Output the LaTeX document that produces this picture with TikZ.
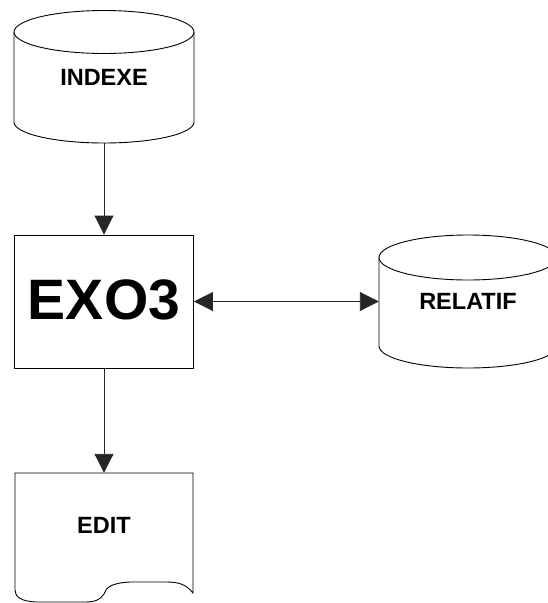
\documentclass[tikz,border=0pt]{standalone}
\usepackage{fontspec}
\setmainfont{Liberation Sans}
\usetikzlibrary{arrows.meta}
\tikzset{
  outline/.style={draw=black, line width=0.9pt, fill=white},
  lbl/.style={inner sep=0pt, font=\fontsize{23.5}{27}\selectfont\bfseries},
  bigl/.style={inner sep=0pt, font=\fontsize{57}{62}\selectfont\bfseries},
  conn/.style={draw=black!85, line width=0.9pt},
  tip/.style={-{Triangle[length=19pt,width=19pt]}},
  tips/.style={{Triangle[length=19pt,width=19pt]}-{Triangle[length=19pt,width=19pt]}}
}
\begin{document}
\begin{tikzpicture}[x=1pt,y=-1pt]
\useasboundingbox (0,0) rectangle (548,603);
\clip (0,0) rectangle (548,603);
% INDEXE cylinder
\draw[outline] (14,32) -- (14,122) arc[start angle=180,end angle=360,x radius=90pt,y radius=21pt] -- (194,32);
\draw[outline] (104,32) ellipse [x radius=90pt, y radius=21.5pt];
\node[lbl, minimum width=180pt, minimum height=132pt] (indexe) at (104,77) {INDEXE};
% EXO3 box
\node[outline, bigl, minimum width=179pt, minimum height=133pt] (exo) at (104,301.5) {};
\node[bigl] (exotxt) at (104,300) {EXO3};
% RELATIF cylinder
\draw[outline] (379,257.5) -- (379,346) arc[start angle=180,end angle=360,x radius=89pt,y radius=22pt] -- (557,257.5);
\draw[outline] (468,257.5) ellipse [x radius=89pt, y radius=22.5pt];
\node[lbl, minimum width=178pt, minimum height=133pt] (relatif) at (468,301.5) {RELATIF};
% EDIT document
\draw[outline] (15,473) -- (193,473) -- (193,593)
  .. controls (186,584) and (178,582) .. (166,582) -- (130,582)
  .. controls (112,583) and (106,587) .. (104,594)
  .. controls (100,600) and (95,602) .. (85,602) -- (35,602)
  .. controls (21,601) and (15,597) .. (15,590) -- cycle;
\node[lbl, minimum width=178pt, minimum height=104pt] (edit) at (104,525) {EDIT};
% connectors
\draw[conn, tip] (indexe.south) -- (exo.north);
\draw[conn, tip] (exo.south) -- (edit.north);
\draw[conn, tips] (exo.east) -- (relatif.west);
\end{tikzpicture}
\end{document}
